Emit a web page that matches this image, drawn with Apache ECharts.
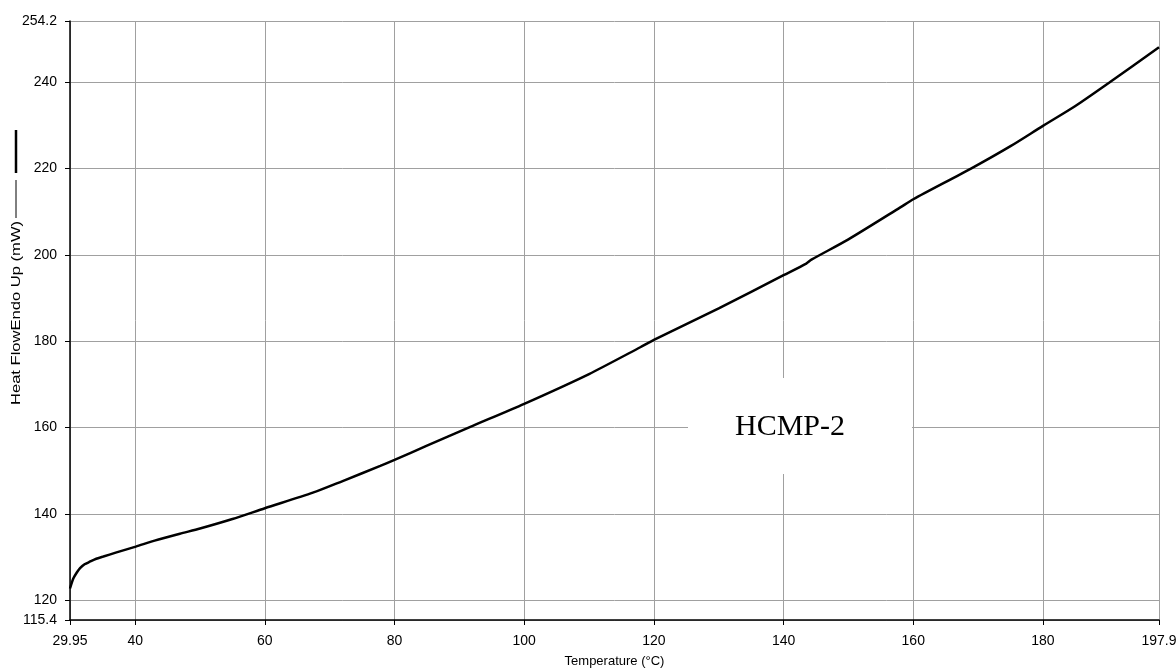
<!DOCTYPE html>
<html>
<head>
<meta charset="utf-8">
<script src="https://cdn.jsdelivr.net/npm/echarts@6/dist/echarts.min.js"></script>
<style>
html,body{margin:0;padding:0;background:#fff;}
#chart{width:1176px;height:671px;}
</style>
</head>
<body>
<div id="chart"></div>
<script>
// Temperature (°C)
const temperatures = [29.95, 30.46, 31.0, 31.5, 32.2, 33.0, 34.0, 35.1, 37.0, 40.1, 43.0, 46.9, 50.0, 55.0, 60.0, 67.4, 72.0, 77.8, 80.0, 85.0, 91.6, 100.0, 110.0, 117.9, 120.0, 130.0, 140.0, 143.5, 144.3, 150.0, 158.0, 160.0, 168.9, 175.0, 180.0, 185.0, 190.3, 197.9];
// Heat Flow Endo Up (mW)
const heatFlow = [122.7, 125.0, 126.4, 127.4, 128.3, 128.9, 129.6, 130.1, 131.0, 132.4, 133.8, 135.4, 136.6, 138.8, 141.3, 144.9, 147.6, 151.1, 152.5, 155.8, 160.1, 165.5, 172.4, 178.6, 180.3, 187.6, 195.3, 198.0, 198.9, 203.6, 211.0, 212.9, 220.0, 225.2, 229.9, 234.5, 240.0, 248.1];
const xTicks = [29.95, 40, 60, 80, 100, 120, 140, 160, 180, 197.9];
const yTicks = [115.4, 120, 140, 160, 180, 200, 220, 240, 254.2];
const sampleLabel = 'HCMP-2';
const yTitle = 'Heat FlowEndo Up (mW)';
const xTitle = 'Temperature (°C)';

const chart = echarts.init(document.getElementById('chart'));
const pts = temperatures.map((t, i) => [t, heatFlow[i]]);
const font = 'Liberation Sans, Arial, sans-serif';

chart.setOption({
  animation: false,
  backgroundColor: '#fff',
  grid: {left: 70, right: 17, top: 21, bottom: 51, containLabel: false, outerBoundsMode: 'none'},
  xAxis: {
    type: 'value', min: 29.95, max: 197.9,
    name: xTitle, nameLocation: 'middle', nameGap: 35,
    nameTextStyle: {fontFamily: font, fontSize: 13, color: '#000'},
    axisLine: {show: true, onZero: false, lineStyle: {color: '#000', width: 1.5}},
    axisTick: {show: true, customValues: xTicks, length: 5, lineStyle: {color: '#000'}},
    axisLabel: {customValues: xTicks, fontFamily: font, fontSize: 14, color: '#000', margin: 14,
      formatter: v => String(v)},
    splitLine: {show: true, lineStyle: {color: '#a0a0a0', width: 1}}
  },
  yAxis: {
    type: 'value', min: 115.4, max: 254.2,
    axisLine: {show: true, onZero: false, lineStyle: {color: '#000', width: 1.5}},
    axisTick: {show: true, customValues: yTicks, length: 5, lineStyle: {color: '#000'}},
    axisLabel: {customValues: yTicks, fontFamily: font, fontSize: 14, color: '#000', margin: 13,
      formatter: v => String(v)},
    splitLine: {show: true, lineStyle: {color: '#a0a0a0', width: 1}}
  },
  graphic: [
    {type: 'rect', x: 688, y: 378, shape: {width: 224, height: 96}, style: {fill: '#fff'}, z: 5},
    {type: 'text', x: 735, y: 427, z: 6,
      style: {text: sampleLabel, font: '30px "Liberation Serif", "Times New Roman", serif', fill: '#000', verticalAlign: 'middle', align: 'left'}},
    {type: 'text', x: 17, y: 313, rotation: Math.PI / 2, scaleX: 1.38, z: 6,
      style: {text: yTitle, font: '12px "Liberation Sans", Arial, sans-serif', fill: '#000', align: 'center', verticalAlign: 'middle'}},
    {type: 'line', shape: {x1: 16, y1: 130, x2: 16, y2: 173}, style: {stroke: '#000', lineWidth: 2.5}, z: 6},
    {type: 'line', shape: {x1: 16, y1: 180, x2: 16, y2: 218}, style: {stroke: '#000', lineWidth: 1}, z: 6}
  ],
  series: [{
    type: 'line', data: pts, showSymbol: false, smooth: 0.25,
    lineStyle: {color: '#000', width: 2.5}, z: 10
  }]
});
</script>
</body>
</html>
